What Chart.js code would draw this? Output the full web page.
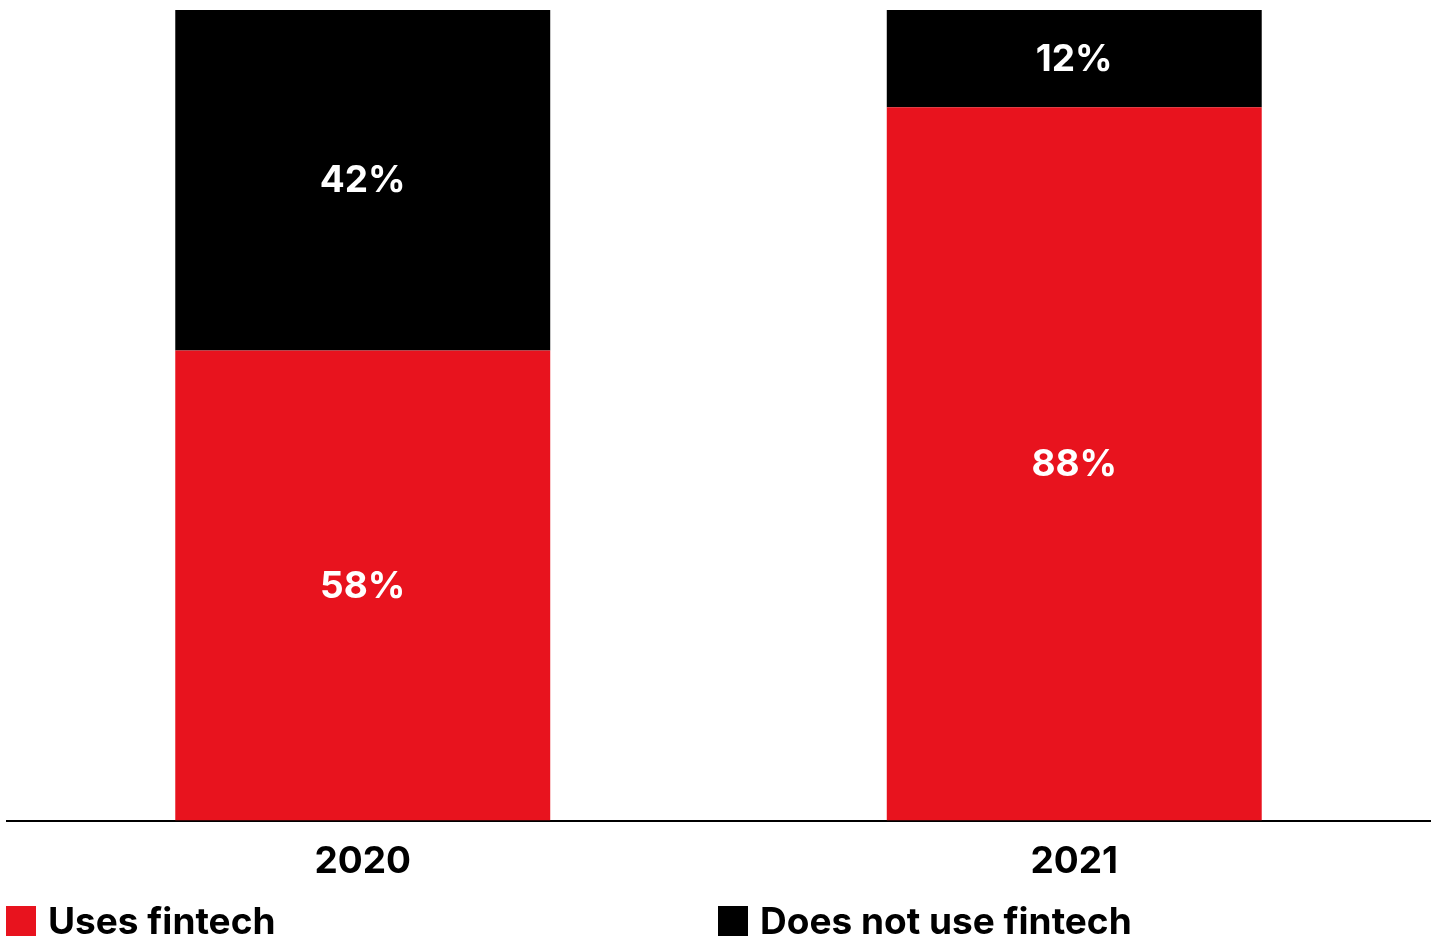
<!DOCTYPE html>
<html>
<head>
<meta charset="utf-8">
<script src="https://cdn.jsdelivr.net/npm/chart.js@4.4.0/dist/chart.umd.min.js"></script>
<style>
    html, body { margin: 0; padding: 0; background: #fff; }
    #wrap { position: relative; width: 1437px; height: 941px; overflow: hidden; }
    #fintech-chart { position: absolute; left: 0; top: 0; }
    .legend { position: absolute; top: 898px; display: flex; align-items: center;
        font-family: Inter, 'Noto Sans', sans-serif; font-weight: 700; font-size: 37px; color: #000; }
    .legend .box { width: 30px; height: 30px; margin-right: 12px; }
</style>
</head>
<body>
<div id="wrap">
    <canvas id="fintech-chart" width="1437" height="941"></canvas>
    <div class="legend" style="left:6px"><span class="box" style="background:#E8131E"></span>Uses fintech</div>
    <div class="legend" style="left:718px"><span class="box" style="background:#000"></span>Does not use fintech</div>
</div>
<script>
/* Fintech usage, stacked share by year */
const years = ['2020', '2021'];
const usesFintech = [58, 88];
const noFintech = [42, 12];

const RED = '#E8131E';
const FONT = 'Inter, "Noto Sans", sans-serif';

// draw the percent labels inside each segment
const segmentLabels = {
    id: 'segmentLabels',
    afterDatasetsDraw(chart) {
        const ctx = chart.ctx;
        ctx.save();
        ctx.fillStyle = '#fff';
        ctx.font = `700 37px ${FONT}`;
        ctx.textAlign = 'center';
        ctx.textBaseline = 'middle';
        chart.data.datasets.forEach((ds, i) => {
            chart.getDatasetMeta(i).data.forEach((bar, j) => {
                const top = Math.min(bar.y, bar.base);
                const bottom = Math.max(bar.y, bar.base);
                ctx.fillText(ds.data[j] + '%', bar.x, (top + bottom) / 2 + 1);
            });
        });
        ctx.restore();
    }
};

new Chart(document.getElementById('fintech-chart'), {
    type: 'bar',
    data: {
        labels: years,
        datasets: [
            { label: 'Uses fintech', data: usesFintech, backgroundColor: RED },
            { label: 'Does not use fintech', data: noFintech, backgroundColor: '#000' }
        ]
    },
    options: {
        responsive: false,
        animation: false,
        datasets: {
            bar: { barPercentage: 1, categoryPercentage: 0.527 }
        },
        layout: { padding: { left: 7, right: 7, top: 10, bottom: 38 } },
        plugins: {
            legend: { display: false },
            tooltip: { enabled: false }
        },
        scales: {
            x: {
                stacked: true,
                grid: { display: false, drawTicks: false },
                border: { display: true, color: '#000', width: 2 },
                ticks: {
                    color: '#000',
                    padding: 19,
                    font: { family: FONT, weight: '700', size: 37 }
                }
            },
            y: {
                stacked: true,
                display: false,
                min: 0,
                max: 100
            }
        }
    },
    plugins: [segmentLabels]
});
</script>
</body>
</html>
